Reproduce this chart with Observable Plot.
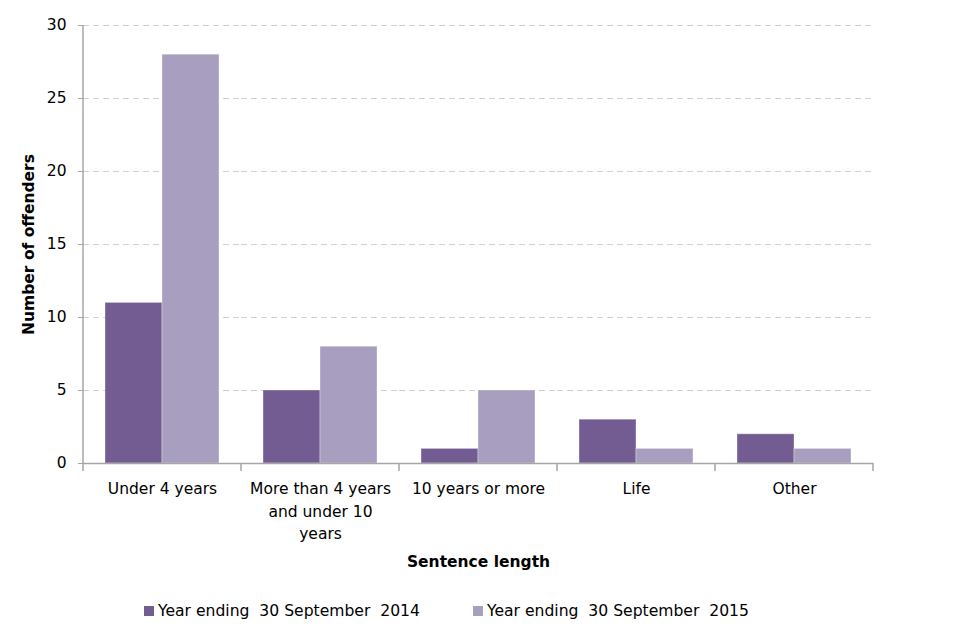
<!DOCTYPE html>
<html><head><meta charset="utf-8">
<script src="https://cdn.jsdelivr.net/npm/d3@7"></script>
<script src="https://cdn.jsdelivr.net/npm/@observablehq/plot@0.6"></script>
<style>
body{margin:0;background:#fff;font-family:"DejaVu Sans",sans-serif;}
#wrap{position:relative;width:960px;height:640px;}
.leg{position:absolute;top:602px;font-size:15.6px;color:#000;white-space:pre;display:flex;align-items:center;}
.sw{width:10px;height:10px;margin-right:4px;display:inline-block;}
</style></head><body><div id="wrap"></div><script>
const categories = ["Under 4 years", "More than 4 years\nand under 10\nyears", "10 years or more", "Life", "Other"];
const series = ["Year ending  30 September  2014", "Year ending  30 September  2015"];
const values2014 = [11, 5, 1, 3, 2];
const values2015 = [28, 8, 5, 1, 1];
const yTicks = [0, 5, 10, 15, 20, 25, 30];
const colors = ["#725C91", "#A89EBF"];

const data = [];
categories.forEach((c, i) => {
  data.push({cat: c, series: series[0], value: values2014[i]});
  data.push({cat: c, series: series[1], value: values2015[i]});
});

const W = 960, H = 590;
const plot = Plot.plot({
  width: W, height: H,
  marginTop: 25, marginBottom: 127, marginLeft: 81, marginRight: 86,
  style: {fontFamily: '"DejaVu Sans", sans-serif', fontSize: "15.5px", color: "#000", background: "#fff"},
  fx: {domain: categories, paddingInner: 0, paddingOuter: 0},
  x: {domain: series, paddingInner: 0, paddingOuter: 0.385, axis: null},
  y: {domain: [0, 30]},
  color: {domain: series, range: colors},
  marks: [
    Plot.gridY(yTicks.filter(d => d > 0), {stroke: "#d0d0d0", strokeOpacity: 1, strokeDasharray: "6,4"}),
    Plot.barY(data, {fx: "cat", x: "series", y: "value", fill: "series", stroke: "#fff", strokeOpacity: 0.35, strokeWidth: 1}),
    Plot.ruleY([0], {stroke: "#a6a6a6", strokeWidth: 1.5}),
    Plot.axisY({ticks: yTicks, tickSize: 5, tickPadding: 12, stroke: "#a6a6a6", label: "Number of offenders", labelAnchor: "center", labelOffset: 61, labelArrow: "none"}),
    Plot.axisFx({anchor: "bottom", tickSize: 0, tickPadding: 15, lineHeight: 1.45, label: "Sentence length", labelAnchor: "center", labelOffset: 103, labelArrow: "none"})
  ]
});

document.getElementById("wrap").appendChild(plot);
const svg = d3.select(plot);
svg.selectAll('[aria-label="y-axis label"] text, [aria-label="fx-axis label"] text').attr("font-weight", "bold");

const fx = plot.scale("fx"), y = plot.scale("y");
const y0 = y.apply(0), yTop = y.apply(30);
const bounds = categories.map(c => fx.apply(c));
bounds.push(fx.apply(categories[categories.length - 1]) + fx.bandwidth);
const g = svg.append("g").attr("stroke", "#a6a6a6");
g.append("line").attr("x1", bounds[0]).attr("x2", bounds[0]).attr("y1", yTop).attr("y2", y0 + 8).attr("stroke-width", 1.5);
bounds.slice(1).forEach(b => {
  g.append("line").attr("x1", b).attr("x2", b).attr("y1", y0).attr("y2", y0 + 8).attr("stroke-width", 1.5);
});

const lefts = [144, 473];
series.forEach((s, i) => {
  const d = document.createElement("div");
  d.className = "leg";
  d.style.left = lefts[i] + "px";
  d.innerHTML = `<span class="sw" style="background:${colors[i]}"></span><span>${s}</span>`;
  document.getElementById("wrap").appendChild(d);
});
</script></body></html>
